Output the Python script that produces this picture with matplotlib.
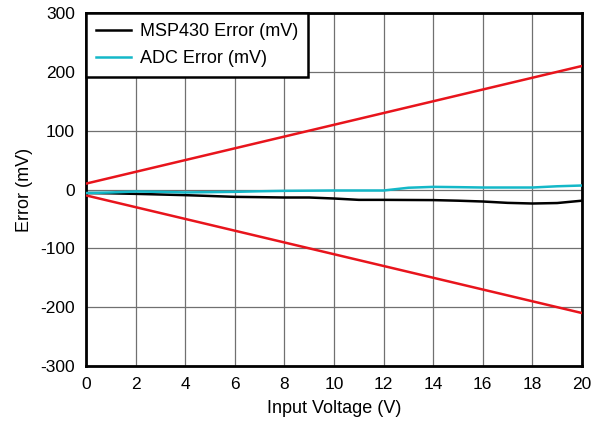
import matplotlib
matplotlib.use("Agg")
import matplotlib.pyplot as plt
import numpy as np

plt.rcParams['font.family'] = ['Liberation Sans', 'DejaVu Sans']
plt.rcParams['axes.unicode_minus'] = False

x_msp = [0, 1, 2, 3, 4, 5, 6, 7, 8, 9, 10, 11, 12, 13, 14, 15, 16, 17, 18, 19, 20]
msp_err = [-6, -6.5, -7.4, -8.5, -9.6, -11, -12.5, -13, -13.6, -13.6, -15.3, -17.6, -17.6, -17.8, -18, -19, -20.4, -22.7, -23.8, -23, -19]
adc_err = [-6, -5, -3.4, -4, -5, -4.5, -4, -3, -2.3, -2, -1.7, -1.7, -1.7, 3, 4.5, 4, 3.4, 3.4, 3.4, 5.5, 6.8]
x_lim = [0, 20]
upper_lim = [10, 210]
lower_lim = [-10, -210]

fig = plt.figure(figsize=(5.94, 4.24), dpi=100)
ax = fig.add_axes([0.1448, 0.1368, 0.835, 0.8325])

ax.plot(x_lim, upper_lim, color='#e8141c', lw=1.8, zorder=3)
ax.plot(x_lim, lower_lim, color='#e8141c', lw=1.8, zorder=3)
ax.plot(x_msp, msp_err, color='black', lw=1.8, label='MSP430 Error (mV)', zorder=4)
ax.plot(x_msp, adc_err, color='#14b8c8', lw=1.8, label='ADC Error (mV)', zorder=4)

ax.set_xlim(0, 20)
ax.set_ylim(-300, 300)
ax.set_xticks(np.arange(0, 21, 2))
ax.set_yticks(np.arange(-300, 301, 100))
ax.grid(True, color='#707070', lw=0.9)
ax.tick_params(length=0, labelsize=12.5, pad=8, colors='black')
for s in ax.spines.values():
    s.set_linewidth(2)
    s.set_color('black')
ax.set_xlabel('Input Voltage (V)', fontsize=13, labelpad=6)
ax.set_ylabel('Error (mV)', fontsize=13, labelpad=5)

leg = ax.legend(loc='upper left', bbox_to_anchor=(0, 1), fontsize=13, frameon=True,
                fancybox=False, borderaxespad=0, handlelength=1.95, handletextpad=0.5,
                borderpad=0.55, labelspacing=0.55)
leg.get_frame().set_edgecolor('black')
leg.get_frame().set_linewidth(1.8)
leg.get_frame().set_alpha(1)

fig.savefig('out.png', dpi=100)
